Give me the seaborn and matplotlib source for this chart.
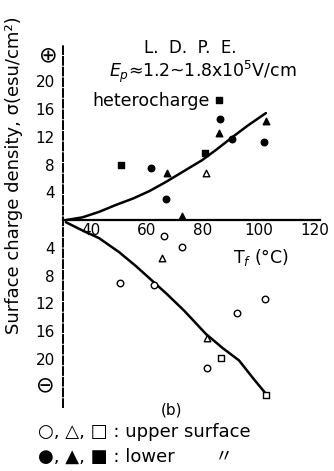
"""
L.D.P.E. surface charge density vs Tf (panel b)
"""

import numpy as np
import pandas as pd
import matplotlib
matplotlib.use("Agg")
import matplotlib.pyplot as plt
import seaborn as sns

# data
# open markers = upper surface, filled = lower surface
circle_open_x = [66.1, 72.5, 50.4, 62.5, 102.1, 92.1, 81.4]
circle_open_y = [-2.3, -3.9, -9.1, -9.4, -11.3, -13.3, -21.3]
tri_open_x = [81.1, 65.4, 81.4]
tri_open_y = [6.8, -5.4, -16.9]
sq_open_x = [86.4, 102.5]
sq_open_y = [-19.8, -25.2]

circle_fill_x = [86.1, 90.4, 101.8, 61.4, 66.8]
circle_fill_y = [14.6, 11.6, 11.2, 7.5, 3.0]
tri_fill_x = [85.7, 102.5, 67.3, 72.5]
tri_fill_y = [12.6, 14.2, 6.8, 0.6]
sq_fill_x = [85.7, 80.7, 50.7]
sq_fill_y = [17.3, 9.7, 8.0]

# hand drawn trend curves
upper_curve_x = [31.0, 37.0, 43.0, 49.0, 55.0, 61.0, 66.8, 73.0, 79.6, 85.0, 90.4, 96.0, 102.5]
upper_curve_y = [0.0, 0.4, 1.2, 2.2, 3.1, 4.2, 5.5, 7.0, 8.6, 10.2, 11.9, 13.6, 15.4]
lower_curve_x = [31.0, 37.0, 42.9, 50.0, 56.0, 61.8, 67.0, 73.2, 81.1, 87.0, 92.9, 98.0, 102.5]
lower_curve_y = [-0.3, -1.5, -2.6, -4.6, -6.6, -8.7, -10.6, -13.0, -16.4, -18.4, -20.2, -22.8, -25.0]

xticks = [40, 60, 80, 100, 120]
yticks = [-20, -16, -12, -8, -4, 4, 8, 12, 16, 20]

W, H = 334, 471


def fx(px):
    return px / W


def fy(py):
    return 1 - py / H


def main():
    sns.set_theme(style="white", rc={"text.color": "black", "axes.labelcolor": "black"})
    plt.rcParams['font.family'] = ['DejaVu Sans', 'Noto Sans CJK JP']

    fig = plt.figure(figsize=(W / 100, H / 100), dpi=100)
    ax = fig.add_axes([fx(63), fy(407), fx(330) - fx(63), fy(45) - fy(407)])

    groups = [
        (circle_open_x, circle_open_y, "o", False),
        (tri_open_x, tri_open_y, "^", False),
        (sq_open_x, sq_open_y, "s", False),
        (circle_fill_x, circle_fill_y, "o", True),
        (tri_fill_x, tri_fill_y, "^", True),
        (sq_fill_x, sq_fill_y, "s", True),
    ]
    for gx, gy, m, filled in groups:
        df = pd.DataFrame({"Tf": gx, "sigma": gy})
        sns.scatterplot(data=df, x="Tf", y="sigma", marker=m, s=22,
                        facecolor="black" if filled else "white",
                        edgecolor="black", linewidth=1.0, ax=ax, zorder=3)

    up = pd.DataFrame({"Tf": upper_curve_x, "sigma": upper_curve_y})
    lo = pd.DataFrame({"Tf": lower_curve_x, "sigma": lower_curve_y})
    sns.lineplot(data=up, x="Tf", y="sigma", color="black", lw=1.8,
                 sort=False, estimator=None, ax=ax)
    sns.lineplot(data=lo, x="Tf", y="sigma", color="black", lw=1.8,
                 sort=False, estimator=None, ax=ax)

    ax.set_xlim(30, 125.4)
    ax.set_ylim(-26.9, 25.2)

    for s in ["top", "right"]:
        ax.spines[s].set_visible(False)
    ax.spines["bottom"].set_position(("data", 0))
    ax.spines["bottom"].set_bounds(30, 122)
    ax.spines["bottom"].set_linewidth(1.6)
    ax.spines["bottom"].set_color("black")
    ax.spines["left"].set_linestyle((0, (4, 1.5)))
    ax.spines["left"].set_linewidth(1.4)
    ax.spines["left"].set_color("black")

    ax.set_xticks(xticks)
    ax.set_xticklabels([str(t) for t in xticks], fontsize=11)
    ax.set_yticks(yticks)
    ax.set_yticklabels([str(abs(t)) for t in yticks], fontsize=11)
    ax.tick_params(axis="x", direction="in", length=5, width=1.2, pad=2, colors="black")
    ax.tick_params(axis="y", direction="in", length=6, width=1.2, pad=6, colors="black")
    ax.set_xlabel("")
    ax.set_ylabel("")

    fig.text(fx(190), fy(48), "L.  D.  P.  E.", fontsize=12, ha="center", va="center")
    fig.text(fx(203), fy(72), r"$E_p$≈1.2~1.8x10$^5$V/cm", fontsize=12.5,
             ha="center", va="center")
    fig.text(fx(92), fy(101), "heterocharge", fontsize=12.5, ha="left", va="center")
    fig.text(fx(233), fy(258), r"T$_f$ (°C)", fontsize=12.5, ha="left", va="center")
    fig.text(fx(48), fy(55), "⊕", fontsize=16, ha="center", va="center")
    fig.text(fx(45), fy(385), "⊖", fontsize=16, ha="center", va="center")
    fig.text(fx(14), fy(175), "Surface charge density, σ(esu/cm²)", fontsize=13,
             rotation=90, ha="center", va="center")
    fig.text(fx(172), fy(410), "(b)", fontsize=11, ha="center", va="center")
    fig.text(fx(38), fy(432), "○, △, □ : upper surface", fontsize=13,
             ha="left", va="center")
    fig.text(fx(38), fy(457), "●, ▲, ■ : lower       〃", fontsize=13,
             ha="left", va="center")

    fig.savefig("out.png", dpi=100, facecolor="white")


if __name__ == "__main__":
    main()
